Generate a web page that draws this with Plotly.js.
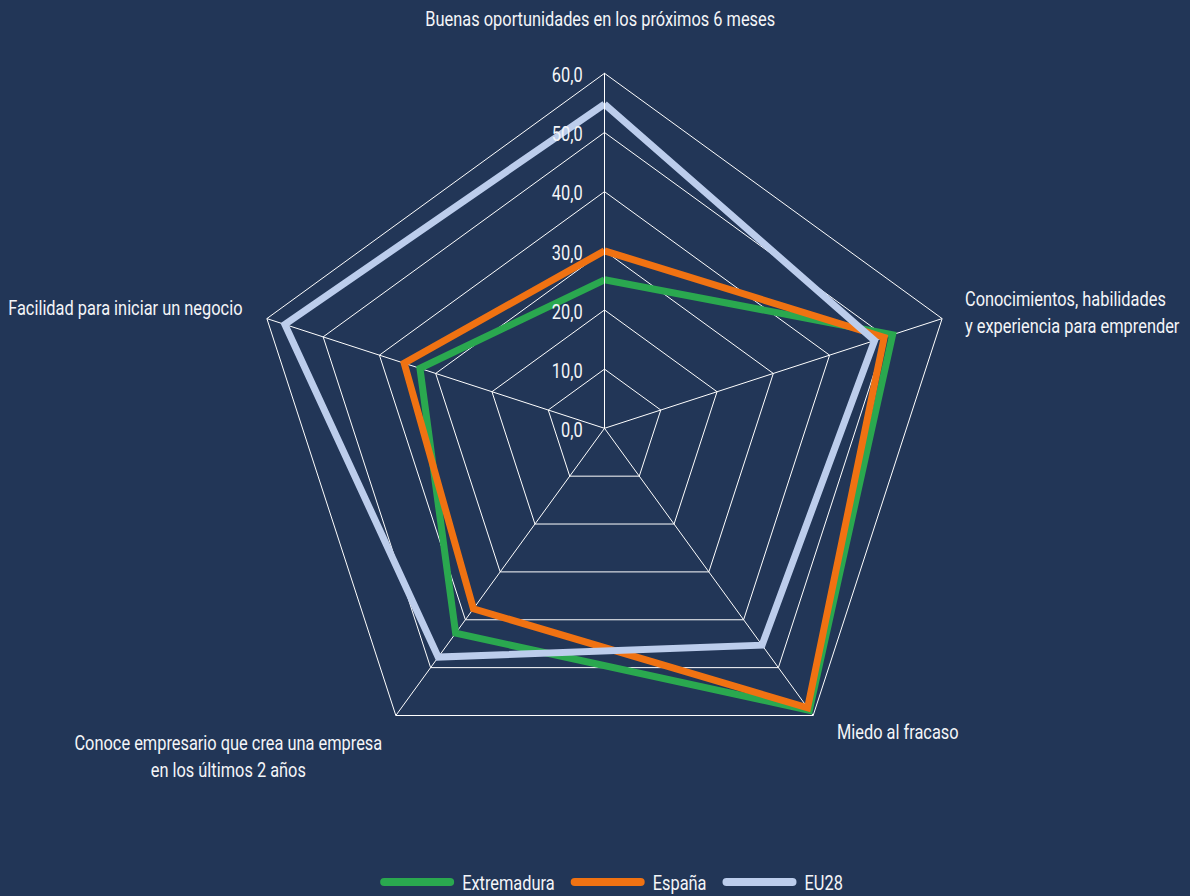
<!DOCTYPE html>
<html>
<head>
<meta charset="utf-8">
<script src="https://cdn.plot.ly/plotly-3.0.1.min.js"></script>
<style>
html,body{margin:0;padding:0;background:#223657;}
#chart{width:1190px;height:896px;}
</style>
</head>
<body>
<div id="chart"></div>
<script>
const categories = [
  "Buenas oportunidades en los próximos 6 meses",
  "Conocimientos, habilidades<br>y experiencia para emprender",
  "Miedo al fracaso",
  "Conoce empresario que crea una empresa<br>en los últimos 2 años",
  "Facilidad para iniciar un negocio"
];
const extremadura = [25.1, 51.2, 58.9, 42.8, 32.8];
const espana = [30.0, 49.7, 58.4, 37.7, 35.6];
const eu28 = [54.8, 48.0, 45.3, 47.8, 56.8];
const radialTicks = [0, 10, 20, 30, 40, 50, 60];

const FONT = "Roboto, 'Liberation Sans', sans-serif";
const TXT = "#f4f5f8";
const FS = 21;
const SX = 0.78; // horizontal condensing of text (reference uses a condensed face)

function closed(a){ return a.concat([a[0]]); }
const theta = closed(categories.map(c => c));

function trace(name, vals, color){
  return {
    type: 'scatterpolar',
    mode: 'lines',
    name: name,
    r: closed(vals),
    theta: theta,
    line: {color: color, width: 7},
    hoverinfo: 'skip'
  };
}

const data = [
  trace('Extremadura', extremadura, '#2aa84f'),
  trace('España', espana, '#f07212'),
  trace('EU28', eu28, '#bccdec')
];

// label placements (paper px)
const labelPos = [
  {x: 600, y: 19, xanchor: 'center', align: 'center'},
  {x: 963, y: 312, xanchor: 'left', align: 'left'},
  {x: 835, y: 732, xanchor: 'left', align: 'left'},
  {x: 228, y: 756, xanchor: 'center', align: 'center'},
  {x: 245, y: 308, xanchor: 'right', align: 'right'}
];
const W = 1190, H = 896;
const annotations = categories.map((c, i) => ({
  text: c,
  xref: 'paper', yref: 'paper',
  x: labelPos[i].x / W, y: 1 - labelPos[i].y / H,
  xanchor: labelPos[i].xanchor, yanchor: 'middle', align: labelPos[i].align,
  showarrow: false,
  font: {family: FONT, size: FS, color: TXT}
}));

const cx = 604.5, cy = 428.3, R = 355;
const layout = {
  width: W, height: H,
  margin: {l: 0, r: 0, t: 0, b: 0, autoexpand: false},
  paper_bgcolor: '#223657',
  plot_bgcolor: '#223657',
  separators: ', ',
  font: {family: FONT, size: FS, color: TXT},
  showlegend: true,
  legend: {
    orientation: 'h',
    x: 0.51, xanchor: 'center',
    y: 40 / H, yanchor: 'middle',
    font: {family: FONT, size: FS, color: TXT},
    itemwidth: 66,
    bgcolor: 'rgba(0,0,0,0)'
  },
  annotations: annotations,
  polar: {
    domain: {x: [(cx - R) / W, (cx + R) / W], y: [(H - cy - R) / H, (H - cy + R) / H]},
    bgcolor: '#223657',
    gridshape: 'linear',
    angularaxis: {
      type: 'category',
      direction: 'clockwise',
      rotation: 90,
      showticklabels: false,
      ticks: '',
      showline: true,
      linecolor: '#ffffff',
      linewidth: 1,
      gridcolor: '#ffffff',
      gridwidth: 1
    },
    radialaxis: {
      range: [0, 60],
      tickvals: radialTicks,
      tickformat: '.1f',
      angle: 90,
      side: 'counterclockwise',
      tickangle: 90,
      ticks: '',
      showline: true,
      linecolor: '#ffffff',
      linewidth: 1,
      gridcolor: '#ffffff',
      gridwidth: 1,
      tickfont: {family: FONT, size: FS, color: TXT}
    }
  }
};

function condense(el, sx, dx, dy){
  const bb = el.getBBox();
  let anchor = el.getAttribute('text-anchor') || getComputedStyle(el).textAnchor || 'start';
  const ax = anchor === 'middle' ? bb.x + bb.width / 2 : (anchor === 'end' ? bb.x + bb.width : bb.x);
  const prev = el.getAttribute('transform') || '';
  el.setAttribute('transform', prev + ' translate(' + (ax * (1 - sx) + dx) + ',' + dy + ') scale(' + sx + ',1)');
}

Plotly.newPlot('chart', data, layout, {displayModeBar: false, staticPlot: true}).then(function(gd){
  const texts = gd.querySelectorAll('svg text');
  texts.forEach(function(t){
    if (!t.textContent) return;
    const cls = t.getAttribute('class') || '';
    if (cls.indexOf('annotation-text') >= 0) condense(t, SX, 0, 0);
    else if (cls.indexOf('legendtext') >= 0) condense(t, SX, 7, 0);
    else condense(t, SX, -14, 2);
  });
  // let legend entries move freely
  gd.querySelectorAll('.legend [clip-path]').forEach(function(e){ e.removeAttribute('clip-path'); });
  // re-space and place legend entries after condensing
  const items = Array.from(gd.querySelectorAll('.legend .traces'));
  const gap = 20;
  const targetY = 882;
  const info = items.map(function(it){
    const line = it.querySelector('.js-line') || it.querySelector('path');
    if (line) { line.style.strokeLinecap = 'round'; line.style.strokeWidth = '8px'; }
    const txt = it.querySelector('.legendtext');
    const lr = line.getBoundingClientRect();
    const r = txt.getBoundingClientRect().right;
    return {it: it, left: lr.left, cy: (lr.top + lr.bottom) / 2, w: r - lr.left};
  });
  const total = info.reduce(function(s, d){ return s + d.w; }, 0) + gap * (info.length - 1);
  let x = 613.5 - total / 2;
  info.forEach(function(d){
    const delta = x - d.left;
    const dyy = targetY - d.cy;
    const tr = d.it.getAttribute('transform') || 'translate(0,0)';
    const m = tr.match(/translate\(\s*([-\d.e]+)[ ,]+([-\d.e]+)\s*\)/);
    const tx = m ? parseFloat(m[1]) : 0, ty = m ? parseFloat(m[2]) : 0;
    d.it.setAttribute('transform', 'translate(' + (tx + delta) + ',' + (ty + dyy) + ')');
    x += d.w + gap;
  });
});
</script>
</body>
</html>
